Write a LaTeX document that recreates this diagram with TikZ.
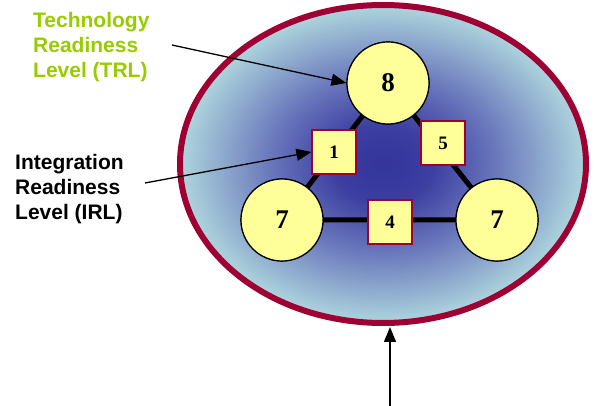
\documentclass[tikz,border=0pt]{standalone}
\usepackage{fontspec}
\setmainfont{Liberation Serif}
\setsansfont{Liberation Sans}
\usetikzlibrary{arrows.meta}
\definecolor{rim}{HTML}{9E0033}
\definecolor{core}{HTML}{34349C}
\definecolor{midblue}{HTML}{6A78BC}
\definecolor{haze}{HTML}{B4DEE0}
\definecolor{pale}{HTML}{FFFF99}
\definecolor{lime}{HTML}{99CC00}
\pgfdeclareradialshading{glow}{\pgfpoint{0bp}{0bp}}{%
  color(0bp)=(core); color(6bp)=(core!85!midblue); color(14bp)=(midblue);
  color(26bp)=(haze); color(50bp)=(haze)}
\tikzset{
  level/.style={circle, draw=black, line width=1.2pt, fill=pale,
    minimum size=82pt, inner sep=0pt, font=\fontsize{27}{27}\selectfont\bfseries},
  link/.style={draw=rim, line width=1.2pt, fill=pale, minimum size=44pt,
    inner sep=0pt, font=\fontsize{19}{19}\selectfont\bfseries},
  edge/.style={line width=5pt, black},
  label/.style={align=left, anchor=north west, inner sep=0pt,
    font=\sffamily\bfseries\fontsize{21}{25}\selectfont},
  pointer/.style={line width=1.3pt, -{Triangle[length=15pt,width=12pt]}}
}
\begin{document}
\begin{tikzpicture}[x=1pt,y=-1pt]
\useasboundingbox (0,0) rectangle (595,406);
% system boundary with radial glow
\shade[shading=glow] (383,164) ellipse [x radius=203, y radius=159];
\draw[rim, line width=6pt] (383,164) ellipse [x radius=203, y radius=159];
% technology nodes
\node[level] (top) at (388,83) {};
\node[level] (left) at (282,220) {};
\node[level] (right) at (497,220) {};
\draw[edge] (top.center) -- (left.center) -- (right.center) -- cycle;
\node[level] at (388,83) {8};
\node[level] at (282,220) {7};
\node[level] at (497,220) {7};
% integration links
\node[link] (l1) at (334,152) {1};
\node[link] (l5) at (443,143) {5};
\node[link] (l4) at (390,222) {4};
% legends
\node[label, text=lime] (trl) at (33,12) {Technology\\Readiness\\Level (TRL)};
\node[label, text=black] (irl) at (15,154) {Integration\\Readiness\\Level (IRL)};
\coordinate (trlend) at (172,45);
\coordinate (irlend) at (145,183);
\coordinate (sysend) at (390,406);
\draw[pointer] (trlend) -- (top.west);
\draw[pointer] (irlend) -- (l1.west);
\draw[pointer] (sysend) -- (390,327);
\end{tikzpicture}
\end{document}
